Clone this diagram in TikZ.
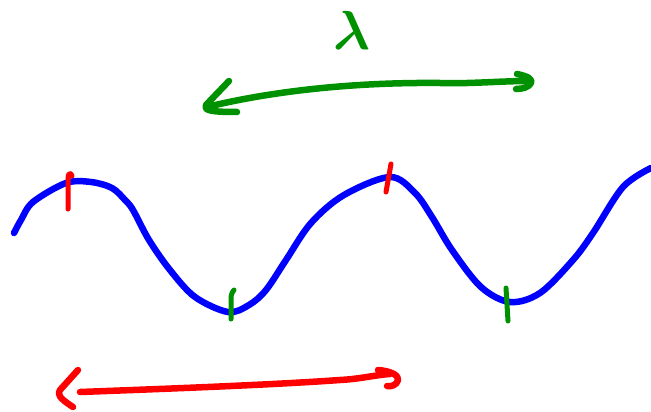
\documentclass[tikz,border=0pt]{standalone}
\usepackage{tikz}
\usetikzlibrary{calc}
\definecolor{penGreen}{RGB}{0,145,0}
\definecolor{penRed}{RGB}{255,0,0}
\definecolor{penBlue}{RGB}{0,0,255}

\begin{document}
\begin{tikzpicture}[x=1pt,y=-1pt,
  pen/.style={line width=6.5pt, line cap=round, line join=round},
  tickmark/.style={line width=5pt, line cap=round, line join=round}]
\useasboundingbox (0,0) rectangle (651,412);
% wave
\draw[pen,penBlue] plot[smooth,tension=0.55] coordinates {
  (14,233) (21,220) (33,202) (66,183) (91,182) (112,188) (125,200)
  (133,210) (149,240) (170,270) (195,297) (228,312) (249,305)
  (266,290) (286,260) (311,223) (344,195) (390,177) (415,193)
  (432,217) (452,250) (481,287) (510,302) (540,293) (573,260)
  (593,233) (623,187) (651,168)};
% crest and trough marks
\draw[tickmark,penRed] (68,209) -- (68,178) .. controls (68,173) and (71,172) .. (72,176);
\draw[tickmark,penRed] (386,192) -- (391,164);
\draw[tickmark,penGreen] (231,319) -- (231,298) .. controls (231,294) and (233,291) .. (234,290);
\draw[tickmark,penGreen] (506,288) -- (508,321);
% wavelength label
\node[penGreen,scale=5.5,font=\boldmath] (lam) at (352,30) {$\lambda$};
% upper arrow
\coordinate (gL) at (207,107);
\coordinate (gR) at (529,81);
\draw[pen,penGreen] (gL) .. controls (260,94) and (340,82) .. (440,83)
  .. controls (470,84) and (500,81) .. (gR);
\draw[pen,penGreen] (229,81) -- (206,105) .. controls (204,110) and (208,112) .. (237,112);
\draw[pen,penGreen] (517,74) .. controls (527,76) and (533,79) .. (531,83)
  .. controls (529,87) and (523,89) .. (516,89);
% lower arrow
\coordinate (rL) at (80,392);
\coordinate (rR) at (390,374);
\draw[pen,penRed] (rL) .. controls (160,389) and (270,385) .. (340,380)
  .. controls (360,379) and (375,375) .. (rR);
\draw[pen,penRed] (78,370) -- (60,390) .. controls (57,394) and (59,398) .. (73,407);
\draw[pen,penRed] (378,370) .. controls (392,371) and (399,376) .. (398,380)
  .. controls (397,385) and (391,387) .. (387,386);
\end{tikzpicture}
\end{document}
